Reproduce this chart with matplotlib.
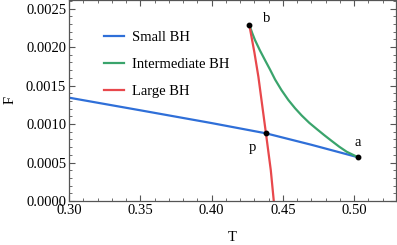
import matplotlib
matplotlib.use("Agg")
import matplotlib.pyplot as plt
from matplotlib.ticker import MultipleLocator, FormatStrFormatter

plt.rcParams['font.family'] = ['Liberation Serif', 'DejaVu Serif']
plt.rcParams['mathtext.fontset'] = 'stix'

# data
small_T = [0.30, 0.35, 0.40, 0.4381, 0.47, 0.5027]
small_F = [0.001342, 0.001178, 0.001012, 0.000879, 0.000730, 0.000568]
inter_T = [0.4264, 0.4285, 0.4304, 0.4339, 0.4374, 0.4410, 0.4445, 0.4490, 0.4538,
           0.4585, 0.4632, 0.4685, 0.4737, 0.4790, 0.4842, 0.4895, 0.4947, 0.5027]
inter_F = [0.002290, 0.002180, 0.002091, 0.001955, 0.001831, 0.001706, 0.001578, 0.001440,
           0.001312, 0.001205, 0.001110, 0.001015, 0.000935, 0.000855, 0.000780, 0.000705,
           0.000640, 0.000568]
large_T = [0.4264, 0.4300, 0.4328, 0.4381, 0.4415, 0.4436, 0.4445]
large_F = [0.002290, 0.001930, 0.001614, 0.000879, 0.000400, 0.000000, -0.000150]
pts_T = [0.4264, 0.5027, 0.4381]
pts_F = [0.002290, 0.000568, 0.000879]
pts_lbl = ['b', 'a', 'p']
series_names = ['Small BH', 'Intermediate BH', 'Large BH']

W, H = 397, 245
fig = plt.figure(figsize=(W/100, H/100), dpi=100)
ax = fig.add_axes([69/W, 1-201/H, (396-69)/W, (201-0.5)/H])

blue, green, red = '#2f6fd8', '#3aa46c', '#e8484c'
ax.plot(small_T, small_F, color=blue, lw=1.6, label=series_names[0])
ax.plot(inter_T, inter_F, color=green, lw=1.6, label=series_names[1])
ax.plot(large_T, large_F, color=red, lw=1.6, label=series_names[2])
ax.plot(pts_T, pts_F, 'o', color='black', ms=3.2, zorder=5)

fs = 10.5
offs = [(0.0124, 0.00008), (-0.0005, 0.00019), (-0.0093, -0.00019)]
for t, f, l, o in zip(pts_T, pts_F, pts_lbl, offs):
    ax.text(t + o[0], f + o[1], l, fontsize=fs, ha='center', va='center')

ax.set_xlim(0.30, 0.5293)
ax.set_ylim(0.0, 0.002604)
ax.xaxis.set_major_locator(MultipleLocator(0.05))
ax.xaxis.set_minor_locator(MultipleLocator(0.01))
ax.yaxis.set_major_locator(MultipleLocator(0.0005))
ax.yaxis.set_minor_locator(MultipleLocator(0.0001))
ax.xaxis.set_major_formatter(FormatStrFormatter('%.2f'))
ax.yaxis.set_major_formatter(FormatStrFormatter('%.4f'))
ax.tick_params(which='both', direction='in', top=True, right=True, color='#555555',
               labelsize=fs, pad=2)
ax.tick_params(which='major', length=4, width=0.8)
ax.tick_params(which='minor', length=2, width=0.6)
for s in ax.spines.values():
    s.set_color('#555555')
    s.set_linewidth(0.9)

fig.text(232/W, 1-237/H, 'T', fontsize=fs, ha='center', va='center')
fig.text(10/W, 1-100/H, 'F', fontsize=fs, ha='center', va='center', rotation=90)

ax.legend(loc='upper left', bbox_to_anchor=(104/W, 1-31/H), bbox_transform=fig.transFigure,
          frameon=False, fontsize=fs, handlelength=1.4, handletextpad=0.55,
          labelspacing=0.95, borderpad=0, borderaxespad=0)

fig.savefig('out.png', dpi=100)
